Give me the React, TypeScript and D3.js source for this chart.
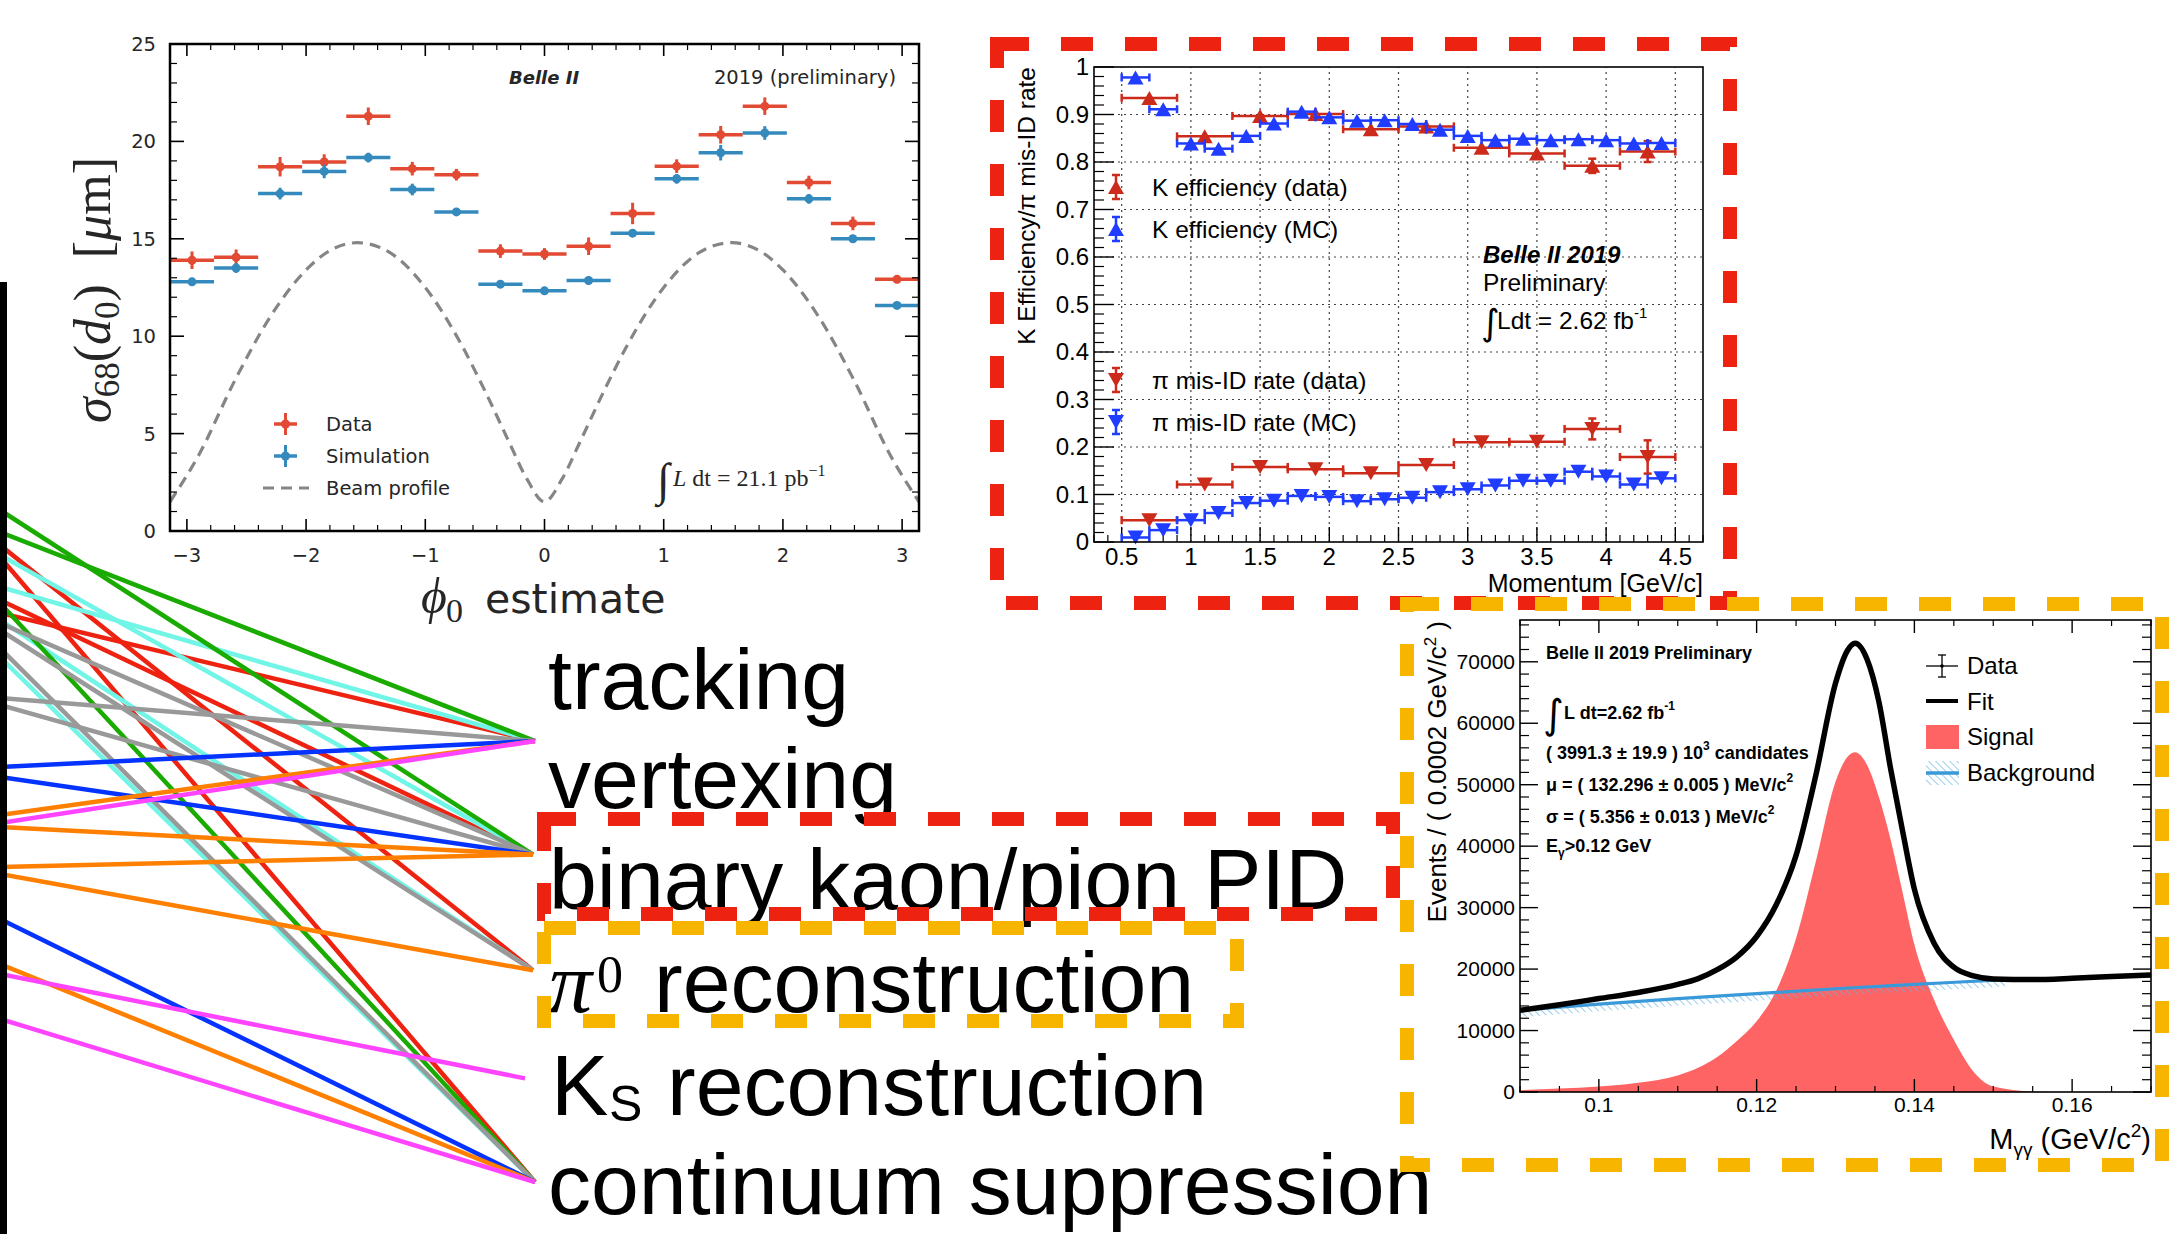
import React from "react";
import * as d3 from "d3";

const W = 2178;
const H = 1234;
const SANS = "'Liberation Sans', Arial, Helvetica, sans-serif";
const DJ = "'DejaVu Sans', Verdana, sans-serif";
const SERIF = "'Liberation Serif', 'Times New Roman', serif";

// ---------------- Panel 1: sigma68(d0) vs phi0 ----------------
const phiCenters = [-2.957, -2.587, -2.218, -1.848, -1.478, -1.109, -0.739, -0.37, 0.0, 0.37, 0.739, 1.109, 1.478, 1.848, 2.218, 2.587, 2.957];
const phiHalfWidth = 0.185;
const dataSigma = [13.9, 14.05, 18.7, 18.94, 21.29, 18.6, 18.29, 14.37, 14.22, 14.62, 16.3, 18.73, 20.34, 21.81, 17.89, 15.79, 12.92];
const dataSigmaErr = [0.45, 0.4, 0.5, 0.4, 0.45, 0.35, 0.3, 0.35, 0.3, 0.45, 0.55, 0.35, 0.45, 0.45, 0.35, 0.35, 0.2];
const simSigma = [12.79, 13.5, 17.32, 18.46, 19.17, 17.53, 16.38, 12.67, 12.33, 12.86, 15.29, 18.08, 19.42, 20.43, 17.05, 15.0, 11.58];
const simSigmaErr = [0.2, 0.25, 0.3, 0.35, 0.25, 0.3, 0.2, 0.2, 0.2, 0.2, 0.2, 0.25, 0.4, 0.35, 0.25, 0.2, 0.15];
const beamPhi = [-3.1416, -2.9, -2.6, -2.3, -2.0, -1.8, -1.571, -1.3, -1.0, -0.7, -0.5, -0.3, -0.15, 0, 0.15, 0.3, 0.5, 0.7, 1.0, 1.3, 1.571, 1.8, 2.0, 2.3, 2.6, 2.9, 3.1416];
const beamSigma = [1.5, 3.9, 7.7, 11.0, 13.4, 14.4, 14.8, 14.3, 12.5, 9.6, 7.2, 4.6, 2.7, 1.5, 2.7, 4.6, 7.2, 9.6, 12.5, 14.3, 14.8, 14.4, 13.4, 11.0, 7.7, 3.9, 1.5];
const p1XTicks = [-3, -2, -1, 0, 1, 2, 3];
const p1XTickLabels = ["\u22123", "\u22122", "\u22121", "0", "1", "2", "3"];
const p1YTicks = [0, 5, 10, 15, 20, 25];
const p1YTickLabels = ["0", "5", "10", "15", "20", "25"];

// ---------------- Panel 2: K efficiency / pi mis-ID ----------------
const dataMomentum = [0.7, 1.1, 1.5, 1.9, 2.3, 2.7, 3.1, 3.5, 3.9, 4.3];
const dataHalfBin = 0.2;
const kEffData = [0.935, 0.854, 0.897, 0.901, 0.869, 0.875, 0.83, 0.818, 0.792, 0.822];
const kEffDataErr = [0.004, 0.004, 0.004, 0.004, 0.004, 0.004, 0.005, 0.007, 0.015, 0.022];
const piMisData = [0.046, 0.121, 0.158, 0.153, 0.145, 0.162, 0.21, 0.211, 0.238, 0.179];
const piMisDataErr = [0.004, 0.004, 0.004, 0.004, 0.004, 0.004, 0.006, 0.012, 0.022, 0.035];
const mcMomentum = [0.6, 0.8, 1.0, 1.2, 1.4, 1.6, 1.8, 2.0, 2.2, 2.4, 2.6, 2.8, 3.0, 3.2, 3.4, 3.6, 3.8, 4.0, 4.2, 4.4];
const mcHalfBin = 0.1;
const kEffMc = [0.978, 0.911, 0.839, 0.828, 0.855, 0.881, 0.906, 0.894, 0.887, 0.888, 0.88, 0.868, 0.855, 0.846, 0.849, 0.846, 0.848, 0.846, 0.839, 0.84];
const piMisMc = [0.0095, 0.025, 0.046, 0.061, 0.082, 0.087, 0.097, 0.095, 0.086, 0.09, 0.093, 0.105, 0.111, 0.119, 0.129, 0.129, 0.148, 0.138, 0.121, 0.134];
const p2YTicks = [0, 0.1, 0.2, 0.3, 0.4, 0.5, 0.6, 0.7, 0.8, 0.9, 1];
const p2YTickLabels = ["0", "0.1", "0.2", "0.3", "0.4", "0.5", "0.6", "0.7", "0.8", "0.9", "1"];
const p2XTicks = [0.5, 1, 1.5, 2, 2.5, 3, 3.5, 4, 4.5];
const p2XTickLabels = ["0.5", "1", "1.5", "2", "2.5", "3", "3.5", "4", "4.5"];

// ---------------- Panel 3: pi0 mass ----------------
const massGrid = [0.09, 0.095, 0.1, 0.105, 0.11, 0.1125, 0.115, 0.1175, 0.12, 0.1225, 0.125, 0.1275, 0.13, 0.1315, 0.1325, 0.134, 0.1355, 0.137, 0.1385, 0.14, 0.1425, 0.145, 0.1475, 0.15, 0.155, 0.16, 0.165, 0.17];
const fitTotal = [13300, 14200, 15200, 16200, 17500, 18400, 19900, 22000, 25300, 30500, 38500, 51500, 66500, 71800, 73000, 70400, 63500, 52500, 42500, 33000, 24200, 20300, 18900, 18400, 18300, 18500, 18800, 19050];
const signalYield = [300, 550, 900, 1500, 2700, 3900, 5700, 8300, 11500, 16500, 25000, 37500, 50500, 54500, 55300, 53200, 48000, 41000, 32500, 24000, 15000, 8500, 3300, 900, 100, 0, 0, 0];
const bgMass = [0.09, 0.1, 0.11, 0.12, 0.13, 0.14, 0.1515];
const bgYield = [13300, 14300, 15200, 16000, 16800, 17500, 18300];
const p3YTicks = [0, 10000, 20000, 30000, 40000, 50000, 60000, 70000];
const p3YTickLabels = ["0", "10000", "20000", "30000", "40000", "50000", "60000", "70000"];
const p3XTicks = [0.1, 0.12, 0.14, 0.16];
const p3XTickLabels = ["0.1", "0.12", "0.14", "0.16"];

// ---------------- Link diagram ----------------
const topicLabels = ["tracking", "vertexing", "binary kaon/pion PID", "reconstruction", "reconstruction", "continuum suppression"];
const nodeSlot = [0, 1.03, 2.08, 3.06, 4];
const linkColor = [
  "red", "red", "red", "red",
  "cyan", "cyan", "cyan", "cyan",
  "green", "green", "green",
  "gray", "gray", "gray", "gray", "gray",
  "blue", "blue", "blue",
  "orange", "orange", "orange", "orange", "orange",
  "magenta", "magenta", "magenta",
];
const linkStart = [
  545, 557, 613, 600,
  555, 587, 620, 657,
  510, 532, 603,
  623, 630, 648, 698, 705,
  767, 777, 919,
  815, 827, 867, 874, 964,
  823, 974, 1019,
];
const linkTarget = [
  2, 4, 0, 1,
  1, 0, 2, 4,
  1, 0, 4,
  1, 2, 4, 0, 1,
  0, 1, 4,
  0, 1, 1, 2, 4,
  0, 3, 4,
];
const palette: Record<string, string> = {
  red: "#ee2211",
  cyan: "#70f5e6",
  green: "#1aab00",
  gray: "#999999",
  blue: "#0433ff",
  orange: "#ff8000",
  magenta: "#ff44ff",
};

function Links() {
  const yNode = d3.scaleLinear().domain([0, 4]).range([741, 1182]);
  const xNode = [535, 533, 533, 525, 535];
  const yStart = d3.scaleIdentity();
  const line = d3.line<[number, number]>();
  return (
    <g>
      {linkStart.map((s, i) => (
        <path
          key={i}
          d={line([[0, yStart(s)], [xNode[linkTarget[i]], yNode(nodeSlot[linkTarget[i]])]]) || ""}
          stroke={palette[linkColor[i]]}
          strokeWidth={4.5}
          fill="none"
        />
      ))}
      <rect x={0} y={282} width={7} height={H - 282} fill="#000" />
    </g>
  );
}

function Panel1() {
  const x = d3.scaleLinear().domain([-Math.PI, Math.PI]).range([170, 919]);
  const y = d3.scaleLinear().domain([0, 25]).range([531, 44]);
  const [xl, xr] = x.range();
  const [yb, yt] = y.range();
  const notInt = (v: number) => Math.abs(v - Math.round(v)) > 1e-6;
  const minorX = d3.range(-15, 16).map((i) => i / 5).filter((v) => notInt(v) && v > -Math.PI && v < Math.PI);
  const minorY = d3.range(0, 26).filter((v) => v % 5 !== 0);
  const beam = d3.line<number>().x((_, i) => x(beamPhi[i])).y((d) => y(d)).curve(d3.curveMonotoneX)(beamSigma) || "";
  const series = [
    { vals: dataSigma, errs: dataSigmaErr, color: "#E24A33" },
    { vals: simSigma, errs: simSigmaErr, color: "#348ABD" },
  ];
  const txt = "#262626";
  return (
    <g>
      <defs>
        <clipPath id="p1clip"><rect x={xl} y={yt} width={xr - xl} height={yb - yt} /></clipPath>
      </defs>
      <path d={beam} fill="none" stroke="#858585" strokeWidth={3.2} strokeDasharray="11,7" clipPath="url(#p1clip)" />
      {series.map((s, si) => (
        <g key={si} clipPath="url(#p1clip)">
          {s.vals.map((v, i) => (
            <g key={i}>
              <line x1={x(phiCenters[i] - phiHalfWidth)} x2={x(phiCenters[i] + phiHalfWidth)} y1={y(v)} y2={y(v)} stroke={s.color} strokeWidth={3.5} />
              <line x1={x(phiCenters[i])} x2={x(phiCenters[i])} y1={y(v - s.errs[i])} y2={y(v + s.errs[i])} stroke={s.color} strokeWidth={3} />
              <circle cx={x(phiCenters[i])} cy={y(v)} r={4.5} fill={s.color} />
            </g>
          ))}
        </g>
      ))}
      {p1XTicks.map((t) => (
        <g key={"xm" + t}>
          <line x1={x(t)} x2={x(t)} y1={yb} y2={yb - 12} stroke="#000" strokeWidth={1.6} />
          <line x1={x(t)} x2={x(t)} y1={yt} y2={yt + 12} stroke="#000" strokeWidth={1.6} />
        </g>
      ))}
      {minorX.map((t) => (
        <g key={"xn" + t}>
          <line x1={x(t)} x2={x(t)} y1={yb} y2={yb - 6} stroke="#000" strokeWidth={1.2} />
          <line x1={x(t)} x2={x(t)} y1={yt} y2={yt + 6} stroke="#000" strokeWidth={1.2} />
        </g>
      ))}
      {p1YTicks.map((t) => (
        <g key={"ym" + t}>
          <line x1={xl} x2={xl + 14} y1={y(t)} y2={y(t)} stroke="#000" strokeWidth={1.6} />
          <line x1={xr} x2={xr - 14} y1={y(t)} y2={y(t)} stroke="#000" strokeWidth={1.6} />
        </g>
      ))}
      {minorY.map((t) => (
        <g key={"yn" + t}>
          <line x1={xl} x2={xl + 7} y1={y(t)} y2={y(t)} stroke="#000" strokeWidth={1.2} />
          <line x1={xr} x2={xr - 7} y1={y(t)} y2={y(t)} stroke="#000" strokeWidth={1.2} />
        </g>
      ))}
      <rect x={xl} y={yt} width={xr - xl} height={yb - yt} fill="none" stroke="#000" strokeWidth={2.5} />
      {p1XTicks.map((t, i) => (
        <text key={"xl" + t} x={x(t)} y={562} textAnchor="middle" fontFamily={DJ} fontSize={19.5} fill={txt}>{p1XTickLabels[i]}</text>
      ))}
      {p1YTicks.map((t, i) => (
        <text key={"yl" + t} x={156} y={y(t) + 7} textAnchor="end" fontFamily={DJ} fontSize={19.5} fill={txt}>{p1YTickLabels[i]}</text>
      ))}
      <g transform="translate(110,290) rotate(-90)">
        <text textAnchor="middle" fontFamily={SERIF} fontSize={52} fill={txt}>
          <tspan fontStyle="italic">σ</tspan>
          <tspan fontSize={35} dy={9}>68</tspan>
          <tspan dy={-9}>(</tspan>
          <tspan fontStyle="italic">d</tspan>
          <tspan fontSize={35} dy={9}>0</tspan>
          <tspan dy={-9}>{")\u2002["}</tspan>
          <tspan fontStyle="italic">μ</tspan>
          <tspan>m]</tspan>
        </text>
      </g>
      <text x={421} y={613} fontFamily={SERIF} fontStyle="italic" fontSize={50} fill={txt}>ϕ</text>
      <text x={446} y={622} fontFamily={SERIF} fontSize={34} fill={txt}>0</text>
      <text x={485} y={613} fontFamily={DJ} fontSize={41} fill={txt}>estimate</text>
      <text x={509} y={84} fontFamily={DJ} fontWeight="bold" fontStyle="italic" fontSize={18} fill={txt}>Belle II</text>
      <text x={896} y={84} textAnchor="end" fontFamily={DJ} fontSize={19.5} fill={txt}>2019 (preliminary)</text>
      <line x1={274} x2={297} y1={424} y2={424} stroke="#E24A33" strokeWidth={3.5} />
      <line x1={285.5} x2={285.5} y1={413} y2={435} stroke="#E24A33" strokeWidth={3} />
      <circle cx={285.5} cy={424} r={4.5} fill="#E24A33" />
      <line x1={274} x2={297} y1={456} y2={456} stroke="#348ABD" strokeWidth={3.5} />
      <line x1={285.5} x2={285.5} y1={445} y2={467} stroke="#348ABD" strokeWidth={3} />
      <circle cx={285.5} cy={456} r={4.5} fill="#348ABD" />
      <line x1={263} x2={309} y1={488} y2={488} stroke="#858585" strokeWidth={3.2} strokeDasharray="11,7" />
      <text x={326} y={431} fontFamily={DJ} fontSize={19.5} fill={txt}>Data</text>
      <text x={326} y={463} fontFamily={DJ} fontSize={19.5} fill={txt}>Simulation</text>
      <text x={326} y={495} fontFamily={DJ} fontSize={19.5} fill={txt}>Beam profile</text>
      <text x={657} y={495} fontFamily={SERIF} fontSize={46} fill={txt}>∫</text>
      <text x={673} y={486} fontFamily={SERIF} fontSize={24} fill={txt}>
        <tspan fontStyle="italic">L</tspan>
        <tspan> dt = 21.1 pb</tspan>
        <tspan fontSize={16} dy={-10}>−1</tspan>
      </text>
    </g>
  );
}

function tri(cx: number, cy: number, up: boolean) {
  const w = 8, h = 7;
  return up
    ? `M${cx - w},${cy + h}L${cx + w},${cy + h}L${cx},${cy - h}Z`
    : `M${cx - w},${cy - h}L${cx + w},${cy - h}L${cx},${cy + h}Z`;
}

function Panel2() {
  const x = d3.scaleLinear().domain([0.3, 4.7]).range([1094, 1703]);
  const y = d3.scaleLinear().domain([0, 1]).range([542, 67]);
  const [xl, xr] = x.range();
  const [yb, yt] = y.range();
  const minorY = d3.range(0, 51).filter((i) => i % 5 !== 0).map((i) => i / 50);
  const minorX = d3.range(3, 48).filter((i) => i % 5 !== 0).map((i) => i / 10);
  const red = "#cc2a1a";
  const blue = "#1f3cff";
  const groups = [
    { px: dataMomentum, hw: dataHalfBin, vals: kEffData, errs: kEffDataErr, color: red, up: true },
    { px: dataMomentum, hw: dataHalfBin, vals: piMisData, errs: piMisDataErr, color: red, up: false },
    { px: mcMomentum, hw: mcHalfBin, vals: kEffMc, errs: kEffMc.map(() => 0.003), color: blue, up: true },
    { px: mcMomentum, hw: mcHalfBin, vals: piMisMc, errs: piMisMc.map(() => 0.003), color: blue, up: false },
  ];
  const legend = [
    { label: "K efficiency (data)", color: red, up: true, yy: 187 },
    { label: "K efficiency (MC)", color: blue, up: true, yy: 229 },
    { label: "π mis-ID rate (data)", color: red, up: false, yy: 380 },
    { label: "π mis-ID rate (MC)", color: blue, up: false, yy: 422 },
  ];
  return (
    <g>
      {p2XTicks.map((t) => (
        <line key={"gx" + t} x1={x(t)} x2={x(t)} y1={yb} y2={yt} stroke="#444" strokeWidth={1.2} strokeDasharray="2,4" />
      ))}
      {p2YTicks.slice(1, -1).map((t) => (
        <line key={"gy" + t} x1={xl} x2={xr} y1={y(t)} y2={y(t)} stroke="#444" strokeWidth={1.2} strokeDasharray="2,4" />
      ))}
      {p2YTicks.map((t) => (
        <line key={"ym" + t} x1={xl} x2={xl + 20} y1={y(t)} y2={y(t)} stroke="#000" strokeWidth={1.4} />
      ))}
      {minorY.map((t) => (
        <line key={"yn" + t} x1={xl} x2={xl + 10} y1={y(t)} y2={y(t)} stroke="#000" strokeWidth={1.2} />
      ))}
      {p2XTicks.map((t) => (
        <line key={"xm" + t} x1={x(t)} x2={x(t)} y1={yb} y2={yb - 15} stroke="#000" strokeWidth={1.4} />
      ))}
      {minorX.map((t) => (
        <line key={"xn" + t} x1={x(t)} x2={x(t)} y1={yb} y2={yb - 7} stroke="#000" strokeWidth={1.2} />
      ))}
      {groups.map((g, gi) => (
        <g key={gi}>
          {g.vals.map((v, i) => {
            const cx = x(g.px[i]);
            const cy = y(v);
            const xa = x(g.px[i] - g.hw);
            const xb = x(g.px[i] + g.hw);
            const ea = y(v + g.errs[i]);
            const eb = y(v - g.errs[i]);
            return (
              <g key={i}>
                <line x1={xa} x2={xb} y1={cy} y2={cy} stroke={g.color} strokeWidth={2.5} />
                <line x1={xa} x2={xa} y1={cy - 4} y2={cy + 4} stroke={g.color} strokeWidth={2.5} />
                <line x1={xb} x2={xb} y1={cy - 4} y2={cy + 4} stroke={g.color} strokeWidth={2.5} />
                <line x1={cx} x2={cx} y1={ea} y2={eb} stroke={g.color} strokeWidth={2.5} />
                {eb - ea > 14 && (
                  <g>
                    <line x1={cx - 4} x2={cx + 4} y1={ea} y2={ea} stroke={g.color} strokeWidth={2.5} />
                    <line x1={cx - 4} x2={cx + 4} y1={eb} y2={eb} stroke={g.color} strokeWidth={2.5} />
                  </g>
                )}
                <path d={tri(cx, cy, g.up)} fill={g.color} />
              </g>
            );
          })}
        </g>
      ))}
      <rect x={xl} y={yt} width={xr - xl} height={yb - yt} fill="none" stroke="#000" strokeWidth={1.6} />
      {p2YTicks.map((t, i) => (
        <text key={"yl" + t} x={1089} y={y(t) + 8} textAnchor="end" fontFamily={SANS} fontSize={24} fill="#000">{p2YTickLabels[i]}</text>
      ))}
      {p2XTicks.map((t, i) => (
        <text key={"xl" + t} x={x(t)} y={565} textAnchor="middle" fontFamily={SANS} fontSize={24} fill="#000">{p2XTickLabels[i]}</text>
      ))}
      <text transform="translate(1035,67) rotate(-90)" textAnchor="end" fontFamily={SANS} fontSize={24.5} fill="#000">K Efficiency/π mis-ID rate</text>
      <text x={xr} y={592} textAnchor="end" fontFamily={SANS} fontSize={25} fill="#000">Momentum [GeV/c]</text>
      {legend.map((l, i) => (
        <g key={i}>
          <line x1={1116} x2={1116} y1={l.yy - 12} y2={l.yy + 12} stroke={l.color} strokeWidth={2.5} />
          <line x1={1112} x2={1120} y1={l.yy - 12} y2={l.yy - 12} stroke={l.color} strokeWidth={2.5} />
          <line x1={1112} x2={1120} y1={l.yy + 12} y2={l.yy + 12} stroke={l.color} strokeWidth={2.5} />
          <path d={tri(1116, l.yy, l.up)} fill={l.color} />
          <text x={1152} y={l.yy + 9} fontFamily={SANS} fontSize={24.5} fill="#000">{l.label}</text>
        </g>
      ))}
      <text x={1483} y={263} fontFamily={SANS} fontWeight="bold" fontStyle="italic" fontSize={24} fill="#000">Belle II 2019</text>
      <text x={1483} y={291} fontFamily={SANS} fontSize={24.5} fill="#000">Preliminary</text>
      <text x={1481} y={335} fontFamily={DJ} fontSize={36} fill="#000">∫</text>
      <text x={1497} y={329} fontFamily={SANS} fontSize={24.5} fill="#000">
        Ldt = 2.62 fb<tspan fontSize={15} dy={-11}>-1</tspan>
      </text>
    </g>
  );
}

function Panel3() {
  const x = d3.scaleLinear().domain([0.09, 0.17]).range([1520, 2151]);
  const y = d3.scaleLinear().domain([0, 76800]).range([1092, 620]);
  const [xl, xr] = x.range();
  const [yb, yt] = y.range();
  const minorX = d3.range(18, 35).filter((i) => i % 4 !== 0).map((i) => i * 0.005);
  const minorY = d3.range(0, 39).filter((i) => i % 5 !== 0).map((i) => i * 2000);
  const sigArea = d3.area<number>().x((_, i) => x(massGrid[i])).y0(yb).y1((d) => y(d)).curve(d3.curveMonotoneX)(signalYield) || "";
  const fitLine = d3.line<number>().x((_, i) => x(massGrid[i])).y((d) => y(d)).curve(d3.curveMonotoneX)(fitTotal) || "";
  const bgLine = d3.line<number>().x((_, i) => x(bgMass[i])).y((d) => y(d)).curve(d3.curveMonotoneX)(bgYield) || "";
  const bgBand = d3.area<number>().x((_, i) => x(bgMass[i])).y0((d) => y(d)).y1((d) => y(d - 1150)).curve(d3.curveMonotoneX)(bgYield) || "";
  const bold = { fontFamily: SANS, fontWeight: "bold" as const, fontSize: 18, fill: "#000" };
  return (
    <g>
      <defs>
        <pattern id="hatch" width={5} height={5} patternUnits="userSpaceOnUse" patternTransform="rotate(-45)">
          <line x1={0} y1={0} x2={0} y2={5} stroke="#5fb2e6" strokeWidth={1.3} />
        </pattern>
        <clipPath id="p3clip"><rect x={xl} y={yt} width={xr - xl} height={yb - yt} /></clipPath>
      </defs>
      <g clipPath="url(#p3clip)">
        <path d={sigArea} fill="#ff6464" />
        <path d={bgBand} fill="url(#hatch)" />
        <path d={bgLine} fill="none" stroke="#3a9ad9" strokeWidth={3.2} />
        <path d={fitLine} fill="none" stroke="#000" strokeWidth={5.5} />
      </g>
      {p3YTicks.map((t) => (
        <g key={"ym" + t}>
          <line x1={xl} x2={xl + 18} y1={y(t)} y2={y(t)} stroke="#000" strokeWidth={1.4} />
          <line x1={xr} x2={xr - 18} y1={y(t)} y2={y(t)} stroke="#000" strokeWidth={1.4} />
        </g>
      ))}
      {minorY.map((t) => (
        <g key={"yn" + t}>
          <line x1={xl} x2={xl + 9} y1={y(t)} y2={y(t)} stroke="#000" strokeWidth={1.2} />
          <line x1={xr} x2={xr - 9} y1={y(t)} y2={y(t)} stroke="#000" strokeWidth={1.2} />
        </g>
      ))}
      {p3XTicks.map((t) => (
        <g key={"xm" + t}>
          <line x1={x(t)} x2={x(t)} y1={yb} y2={yb - 13} stroke="#000" strokeWidth={1.4} />
          <line x1={x(t)} x2={x(t)} y1={yt} y2={yt + 13} stroke="#000" strokeWidth={1.4} />
        </g>
      ))}
      {minorX.map((t) => (
        <g key={"xn" + t}>
          <line x1={x(t)} x2={x(t)} y1={yb} y2={yb - 6} stroke="#000" strokeWidth={1.2} />
          <line x1={x(t)} x2={x(t)} y1={yt} y2={yt + 6} stroke="#000" strokeWidth={1.2} />
        </g>
      ))}
      <rect x={xl} y={yt} width={xr - xl} height={yb - yt} fill="none" stroke="#000" strokeWidth={1.6} />
      {p3YTicks.map((t, i) => (
        <text key={"yl" + t} x={1515} y={y(t) + 7} textAnchor="end" fontFamily={SANS} fontSize={21} fill="#000">{p3YTickLabels[i]}</text>
      ))}
      {p3XTicks.map((t, i) => (
        <text key={"xl" + t} x={x(t)} y={1112} textAnchor="middle" fontFamily={SANS} fontSize={21} fill="#000">{p3XTickLabels[i]}</text>
      ))}
      <text transform="translate(1446,621) rotate(-90)" textAnchor="end" fontFamily={SANS} fontSize={26} fill="#000">
        Events / ( 0.0002 GeV/c<tspan fontSize={17} dy={-10}>2</tspan><tspan dy={10}> )</tspan>
      </text>
      <text x={xr} y={1149} textAnchor="end" fontFamily={SANS} fontSize={29} fill="#000">
        M<tspan fontSize={19} dy={7}>γγ</tspan><tspan dy={-7}> (GeV/c</tspan><tspan fontSize={19} dy={-12}>2</tspan><tspan dy={12}>)</tspan>
      </text>
      <text x={1546} y={659} {...bold}>Belle II 2019 Preliminary</text>
      <text x={1543} y={728} fontFamily={DJ} fontSize={40} fill="#000">∫</text>
      <text x={1564} y={719} {...bold}>L dt=2.62 fb<tspan fontSize={12} dy={-9}>-1</tspan></text>
      <text x={1546} y={759} {...bold}>( 3991.3 ± 19.9 ) 10<tspan fontSize={12} dy={-9}>3</tspan><tspan dy={9}> candidates</tspan></text>
      <text x={1546} y={791} {...bold}>μ = ( 132.296 ± 0.005 ) MeV/c<tspan fontSize={12} dy={-9}>2</tspan></text>
      <text x={1546} y={823} {...bold}>σ = ( 5.356 ± 0.013 ) MeV/c<tspan fontSize={12} dy={-9}>2</tspan></text>
      <text x={1546} y={852} {...bold}>E<tspan fontSize={12} dy={5}>γ</tspan><tspan dy={-5}>&gt;0.12 GeV</tspan></text>
      <line x1={1926} x2={1958} y1={666} y2={666} stroke="#000" strokeWidth={1.3} />
      <line x1={1942} x2={1942} y1={655} y2={677} stroke="#000" strokeWidth={1.3} />
      <line x1={1938} x2={1946} y1={655} y2={655} stroke="#000" strokeWidth={1.3} />
      <line x1={1938} x2={1946} y1={677} y2={677} stroke="#000" strokeWidth={1.3} />
      <circle cx={1942} cy={666} r={1.8} fill="#000" />
      <line x1={1926} x2={1958} y1={701} y2={701} stroke="#000" strokeWidth={4} />
      <rect x={1926} y={725} width={33} height={24} fill="#ff6464" />
      <rect x={1926} y={761} width={33} height={24} fill="url(#hatch)" />
      <line x1={1926} x2={1959} y1={773} y2={773} stroke="#3a9ad9" strokeWidth={3.5} />
      <text x={1967} y={674} fontFamily={SANS} fontSize={24} fill="#000">Data</text>
      <text x={1967} y={710} fontFamily={SANS} fontSize={24} fill="#000">Fit</text>
      <text x={1967} y={745} fontFamily={SANS} fontSize={24} fill="#000">Signal</text>
      <text x={1967} y={781} fontFamily={SANS} fontSize={24} fill="#000">Background</text>
    </g>
  );
}

function Topics() {
  const baseline = d3.scaleLinear().domain([0, 5]).range([709, 1214]);
  const fs = 86;
  return (
    <g fill="#000">
      <text x={548} y={baseline(0)} fontFamily={SANS} fontSize={fs}>{topicLabels[0]}</text>
      <text x={548} y={baseline(0.98)} fontFamily={SANS} fontSize={fs}>{topicLabels[1]}</text>
      <text x={549} y={baseline(1.98)} fontFamily={SANS} fontSize={fs}>{topicLabels[2]}</text>
      <text x={549} y={baseline(3)} fontFamily={SERIF} fontStyle="italic" fontSize={fs}>π</text>
      <text x={597} y={baseline(3) - 20} fontFamily={SERIF} fontSize={52}>0</text>
      <text x={654} y={baseline(3)} fontFamily={SANS} fontSize={fs}>{topicLabels[3]}</text>
      <text x={551} y={baseline(4.02)} fontFamily={SANS} fontSize={fs}>K</text>
      <text x={609} y={baseline(4.02) + 6} fontFamily={SANS} fontSize={50}>S</text>
      <text x={667} y={baseline(4.02)} fontFamily={SANS} fontSize={fs}>{topicLabels[4]}</text>
      <text x={548} y={baseline(5)} fontFamily={SANS} fontSize={fs}>{topicLabels[5]}</text>
    </g>
  );
}

function Boxes() {
  const red = "#ee2211";
  const yellow = "#f7b500";
  const common = { fill: "none", strokeWidth: 14, strokeDasharray: "32,32" };
  return (
    <g>
      <rect x={997} y={44} width={733} height={559} stroke={red} {...common} />
      <rect x={544} y={819} width={849} height={95} stroke={red} {...common} />
      <rect x={544} y={928} width={693} height={93} stroke={yellow} {...common} />
      <rect x={1407} y={604} width={755} height={561} stroke={yellow} {...common} />
    </g>
  );
}

export default function App() {
  return (
    <div style={{ position: "fixed", left: 0, top: 0, width: W, height: H, background: "#fff", overflow: "hidden" }}>
      <svg width={W} height={H} viewBox={`0 0 ${W} ${H}`} style={{ display: "block" }}>
        <rect x={0} y={0} width={W} height={H} fill="#fff" />
        <Links />
        <Panel1 />
        <Panel2 />
        <Panel3 />
        <Topics />
        <Boxes />
      </svg>
    </div>
  );
}
